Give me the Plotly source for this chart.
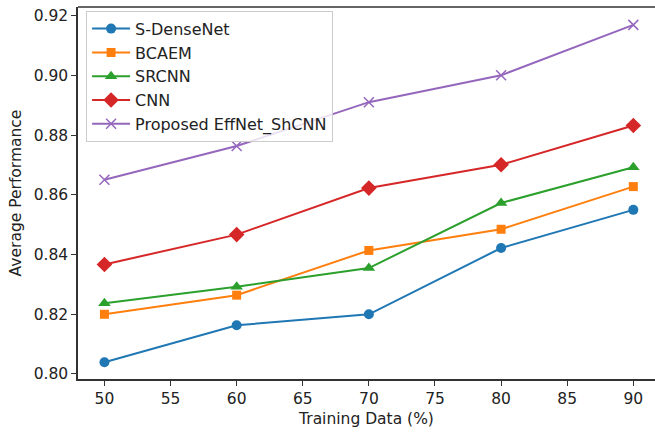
import plotly.graph_objects as go

training = [50, 60, 70, 80, 90]
s_densenet = [0.8039, 0.8163, 0.8200, 0.8422, 0.8550]
bcaem = [0.8200, 0.8264, 0.8414, 0.8485, 0.8628]
srcnn = [0.8237, 0.8292, 0.8355, 0.8573, 0.8693]
cnn = [0.8367, 0.8467, 0.8623, 0.8701, 0.8833]
proposed = [0.8651, 0.8764, 0.8911, 0.9001, 0.9170]

series = [
    ("S-DenseNet", s_densenet, "#1f77b4", "circle", 10),
    ("BCAEM", bcaem, "#ff7f0e", "square", 9),
    ("SRCNN", srcnn, "#2ca02c", "triangle-up", 11),
    ("CNN", cnn, "#d62728", "diamond", 12),
    ("Proposed EffNet_ShCNN", proposed, "#9467bd", "x-thin", 10),
]

fig = go.Figure()
for name, vals, color, sym, sz in series:
    marker = dict(symbol=sym, size=sz, color=color)
    if sym == "x-thin":
        marker["line"] = dict(color=color, width=1.5)
    fig.add_trace(go.Scatter(
        x=training, y=vals, name=name, mode="lines+markers",
        line=dict(color=color, width=2), marker=marker,
    ))

axis_common = dict(
    showgrid=False, zeroline=False, showline=True, linecolor="#333333", linewidth=1.5,
    ticks="outside", ticklen=5, tickwidth=1.2, tickcolor="#333333", automargin=False,
    tickfont=dict(family="DejaVu Sans", size=15.5, color="#222222"),
)

fig.update_layout(
    width=655, height=432,
    margin=dict(l=78, r=0, t=7, b=53),
    plot_bgcolor="white", paper_bgcolor="white",
    font=dict(family="DejaVu Sans", size=15.5, color="#222222"),
    xaxis=dict(range=[48, 91.64], tickvals=[50, 55, 60, 65, 70, 75, 80, 85, 90],
               title=dict(text="Training Data (%)", standoff=6,
                          font=dict(family="DejaVu Sans", size=15.5)),
               **axis_common),
    yaxis=dict(range=[0.7983, 0.923], tickvals=[0.80, 0.82, 0.84, 0.86, 0.88, 0.90, 0.92],
               tickformat=".2f",
               title=dict(text="Average Performance", standoff=8,
                          font=dict(family="DejaVu Sans", size=15.5)),
               **axis_common),
    legend=dict(x=0.014, y=0.99, xanchor="left", yanchor="top",
                bgcolor="rgba(255,255,255,0.8)", bordercolor="#cccccc", borderwidth=1,
                font=dict(family="DejaVu Sans", size=16, color="#222222"),
                tracegroupgap=0, itemwidth=38),
    shapes=[dict(type="line", xref="paper", yref="paper", x0=0, x1=1, y0=1, y1=1,
                 line=dict(color="#333333", width=1.5))],
)

fig.write_html("out.html", config={"displayModeBar": False},
               post_script="document.body.style.margin='0';document.body.style.padding='0';")
